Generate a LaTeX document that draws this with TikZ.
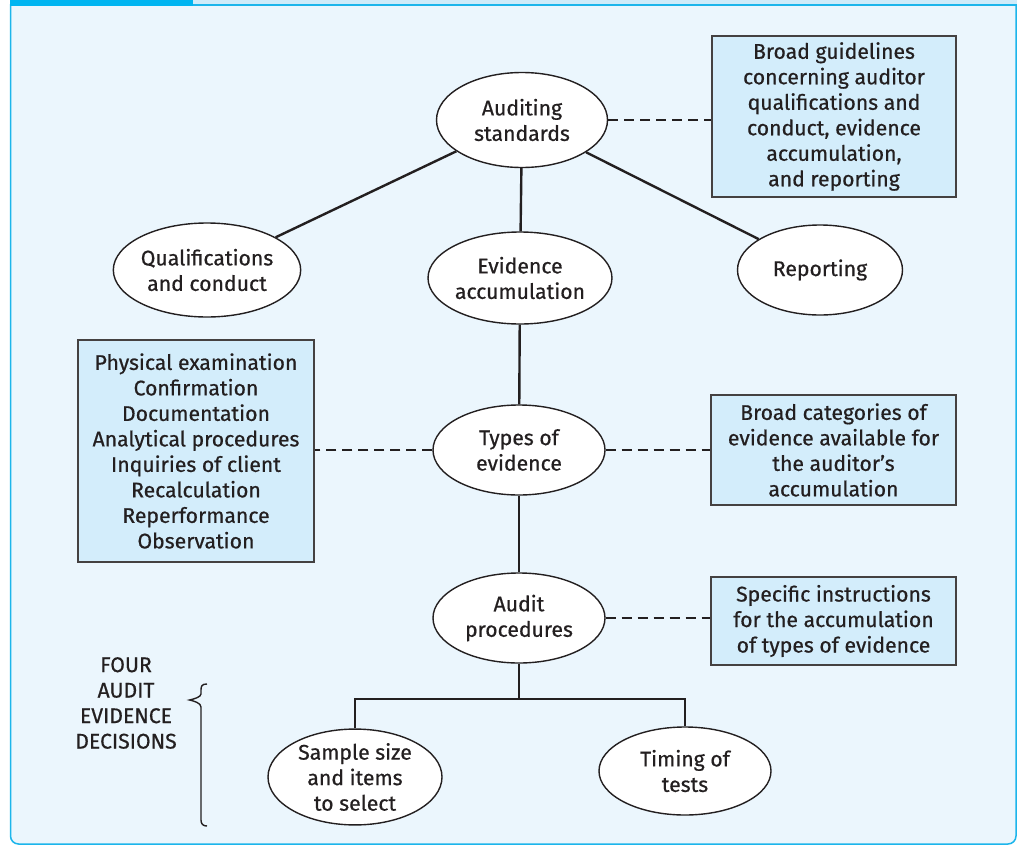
\documentclass[tikz,border=0pt]{standalone}
\usepackage{fontspec}
\setmainfont{Fira Sans}[FakeBold=0.6]
\usetikzlibrary{shapes.geometric}
\definecolor{ink}{HTML}{231F20}
\definecolor{panel}{HTML}{EBF6FD}
\definecolor{framec}{HTML}{1CB5EB}
\definecolor{tabc}{HTML}{00B5F1}
\definecolor{stripc}{HTML}{CFEBF9}
\definecolor{boxfill}{HTML}{D3EDFB}
\begin{document}
\begin{tikzpicture}[x=1pt,y=-1pt,
  txt/.style={font=\fontsize{21.2}{25.5}\selectfont, text=ink, align=center},
  oval/.style={txt, ellipse, draw=ink, line width=1.4pt, fill=white, inner sep=0pt},
  note/.style={txt, rectangle, draw=ink!85, line width=1.2pt, fill=boxfill, inner sep=0pt},
  link/.style={draw=ink, line width=2.4pt},
  dlink/.style={draw=ink, line width=2.4pt, dash pattern=on 10pt off 6pt}]
\useasboundingbox (0,0) rectangle (1021,846);
% frame
\begin{scope}
  \clip (0,4) rectangle (1021,846);
  \draw[framec, line width=1.5pt, fill=panel, rounded corners=8pt] (10.5,-20) rectangle (1016,844);
\end{scope}
\fill[stripc] (193,0) rectangle (1016.75,4.5);
\draw[framec, line width=1.5pt] (10,5) -- (1016.75,5);
\fill[tabc] (9.75,0) rectangle (193,6);

% ellipses
\node[oval, minimum width=171pt, minimum height=95pt] (aud) at (522,120) {Auditing\\standards};
\node[oval, minimum width=153pt, minimum height=94pt] (qual) at (207,270) {Qualifications\\and conduct};
\node[oval, minimum width=174pt, minimum height=92pt] (evid) at (520,278) {Evidence\\accumulation};
\node[oval, minimum width=165pt, minimum height=90pt] (rep) at (820,270) {Reporting};
\node[oval, minimum width=172pt, minimum height=90pt] (types) at (519,450) {Types of\\evidence};
\node[oval, minimum width=172pt, minimum height=90pt] (proc) at (519,618) {Audit\\procedures};
\node[oval, minimum width=174pt, minimum height=95pt] (sample) at (355,777) {Sample size\\and items\\to select};
\node[oval, minimum width=172pt, minimum height=88pt] (timing) at (685,771) {Timing of\\tests};

% boxes
\node[note, minimum width=244pt, minimum height=161pt] (guide) at (834,116.5) {Broad guidelines\\concerning auditor\\qualifications and\\conduct, evidence\\accumulation,\\and reporting};
\node[note, minimum width=236pt, minimum height=222pt] (list) at (196,451) {Physical examination\\Confirmation\\Documentation\\Analytical procedures\\Inquiries of client\\Recalculation\\Reperformance\\Observation};
\node[note, minimum width=245pt, minimum height=110pt] (cat) at (833.5,450) {Broad categories of\\evidence available for\\the auditor’s\\accumulation};
\node[note, minimum width=245pt, minimum height=88pt] (spec) at (833.5,621) {Specific instructions\\for the accumulation\\of types of evidence};

% solid connectors
\draw[link] (aud) -- (qual);
\draw[link] (aud) -- (rep);
\draw[link] (aud) -- (evid);
\draw[link] (evid) -- (types);
\draw[link] (types) -- (proc);
\coordinate (fork) at (519,699);
\draw[link] (proc) -- (fork);
\draw[link] (sample.north) -- (sample.north |- fork) -- (timing.north |- fork) -- (timing.north);

% dashed connectors
\draw[dlink] (aud.east) -- (aud.east -| guide.west);
\draw[dlink] (types.west) -- (types.west -| list.east);
\draw[dlink] (types.east) -- (types.east -| cat.west);
\draw[dlink] (proc.east) -- (proc.east -| spec.west);

% brace and label
\draw[ink, line width=1.4pt] (207,684) .. controls (202,684) and (201,686) .. (201,690)
  -- (201,694) .. controls (201,697) and (194,699) .. (189.5,700)
  .. controls (194,701) and (201,703) .. (201,707)
  -- (201,820) .. controls (201,824) and (203,826) .. (207,826);
\node[txt] (decisions) at (126,703) {FOUR\\AUDIT\\EVIDENCE\\DECISIONS};
\end{tikzpicture}
\end{document}
